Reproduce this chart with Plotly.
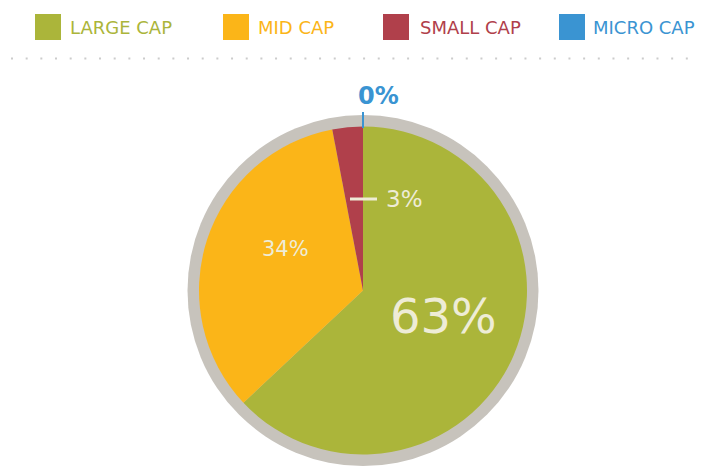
import plotly.graph_objects as go

# ---- data ----
categories = ["LARGE CAP", "MID CAP", "SMALL CAP", "MICRO CAP"]
values = [63, 34, 3, 0]
colors = ["#abb53a", "#fbb518", "#b0404b", "#3a94d2"]
ring_color = "#c7c3bc"
label_color = "#eeecd6"

# page body has an 8px margin; work in window pixels and convert
OFF = 8
WIN_W, WIN_H = 703, 466
W, H = WIN_W - OFF, WIN_H - OFF
TOP = 115  # window y where plot area starts
T = TOP - OFF
PH = H - T


def px(x):
    return (x - OFF) / W


def py(y):
    return (WIN_H - y) / PH


cx = 363
R_out = PH / 2
R_in = 164

FONT = "DejaVu Sans"

fig = go.Figure()
# outer ring
fig.add_trace(go.Pie(
    values=[1], labels=["ring"], marker=dict(colors=[ring_color], line=dict(width=0)),
    textinfo="none", hoverinfo="skip", sort=False, showlegend=False,
    domain=dict(x=[px(cx - R_out), px(cx + R_out)], y=[0, 1]),
))
# main pie
fig.add_trace(go.Pie(
    values=values, labels=categories,
    marker=dict(colors=colors, line=dict(width=0)),
    textinfo="none", sort=False, direction="clockwise", rotation=0,
    showlegend=False,
    domain=dict(x=[px(cx - R_in), px(cx + R_in)],
                y=[(R_out - R_in) / PH, (R_out + R_in) / PH]),
))

shapes = []
annotations = []

# legend (drawn manually)
sq_x = [35, 223, 383, 559]
txt_x = [68, 256, 418, 591]
for i, name in enumerate(categories):
    x0 = sq_x[i]
    shapes.append(dict(type="rect", xref="paper", yref="paper",
                       x0=px(x0), x1=px(x0 + 26), y0=py(40), y1=py(14),
                       fillcolor=colors[i], line=dict(width=0)))
    annotations.append(dict(xref="paper", yref="paper", x=px(txt_x[i]), y=py(27.5),
                            xanchor="left", yanchor="middle", showarrow=False,
                            text=name, font=dict(family=FONT, size=18, color=colors[i])))

# dotted separator
shapes.append(dict(type="line", xref="paper", yref="paper",
                   x0=px(11), x1=px(703), y0=py(58.5), y1=py(58.5),
                   line=dict(color="#cccccc", width=2, dash="2px,12.67px")))

# slice labels
pct = [f"{v}%" for v in values]
annotations.append(dict(xref="paper", yref="paper", x=px(443), y=py(316),
                        xanchor="center", yanchor="middle", showarrow=False,
                        text=pct[0], font=dict(family=FONT, size=48, color=label_color)))
annotations.append(dict(xref="paper", yref="paper", x=px(285), y=py(249),
                        xanchor="center", yanchor="middle", showarrow=False,
                        text=pct[1], font=dict(family=FONT, size=21, color=label_color)))
annotations.append(dict(xref="paper", yref="paper", x=px(384), y=py(199),
                        xanchor="left", yanchor="middle", showarrow=False,
                        text=pct[2], font=dict(family=FONT, size=23, color=label_color)))
shapes.append(dict(type="line", xref="paper", yref="paper",
                   x0=px(350), x1=px(377), y0=py(199), y1=py(199),
                   line=dict(color=label_color, width=3)))
annotations.append(dict(xref="paper", yref="paper", x=px(378), y=py(96),
                        xanchor="center", yanchor="middle", showarrow=False,
                        text=pct[3], font=dict(family=FONT, size=24, color=colors[3], weight="bold")))
shapes.append(dict(type="line", xref="paper", yref="paper",
                   x0=px(363), x1=px(363), y0=py(112), y1=py(128),
                   line=dict(color=colors[3], width=2)))

fig.update_layout(
    width=W, height=H,
    margin=dict(l=0, r=0, t=T, b=0, pad=0),
    paper_bgcolor="white", plot_bgcolor="white",
    shapes=shapes, annotations=annotations,
    showlegend=False,
)

fig.write_html("out.html")
